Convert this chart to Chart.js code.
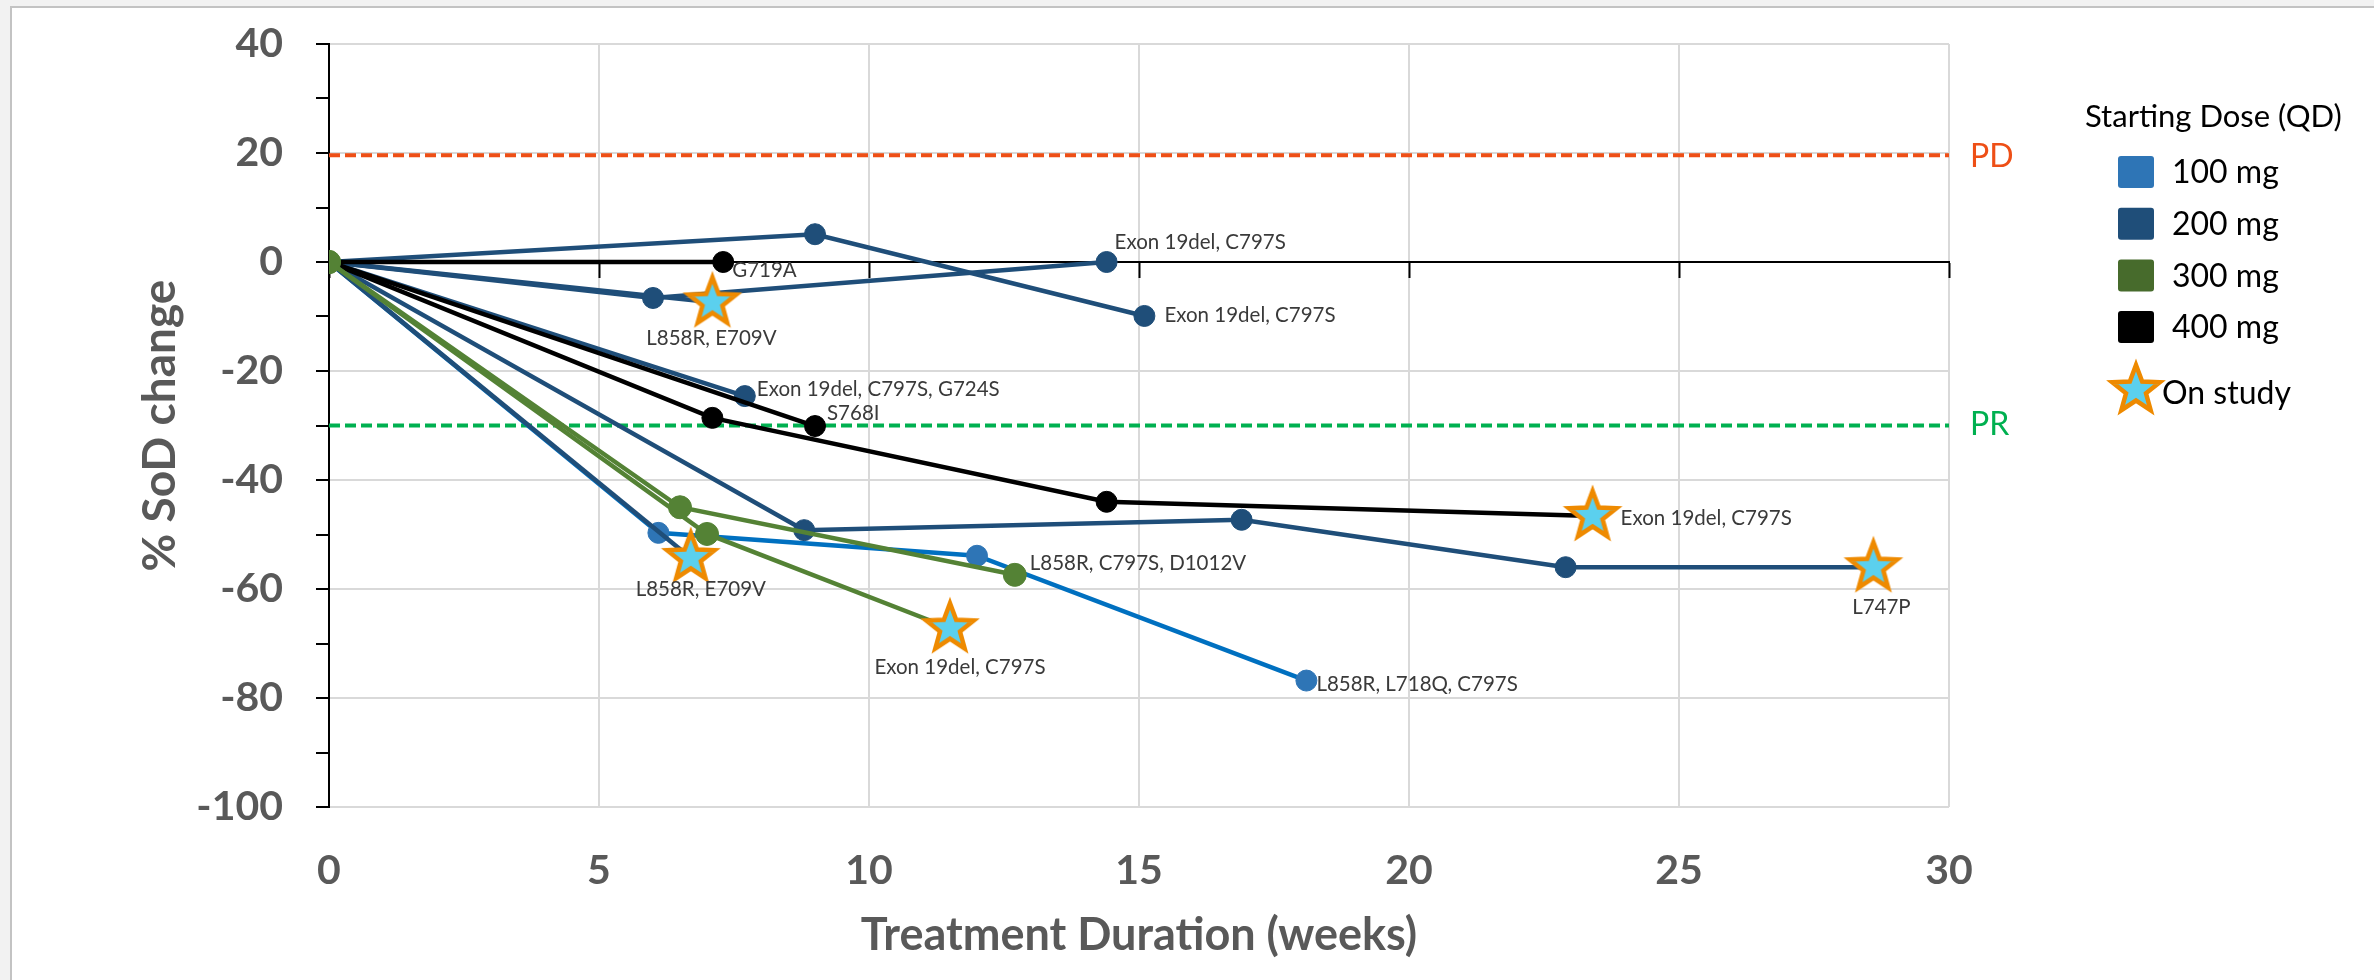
<!DOCTYPE html>
<html><head><meta charset="utf-8">
<script src="https://cdn.jsdelivr.net/npm/chart.js@4.4.1/dist/chart.umd.min.js"></script>
<style>
html,body{margin:0;padding:0;width:2374px;height:980px;overflow:hidden;background:#f2f2f2;}
#frame{position:absolute;left:10px;top:6px;width:2400px;height:1000px;background:#fff;border-left:2px solid #c3c3c3;border-top:2px solid #c3c3c3;}
#c{position:absolute;left:0;top:0;}
</style></head><body>
<div id="frame"></div>
<canvas id="c" width="2374" height="980"></canvas>
<script>
// ---------- data ----------
const doseLabels = ['100 mg', '200 mg', '300 mg', '400 mg'];

const p01Weeks = [0, 9.0, 15.1];             const p01Sod = [0, 5.1, -9.9];
const p02Weeks = [0, 6.0, 14.4];             const p02Sod = [0, -6.6, 0];
const p03Weeks = [0, 7.1];                   const p03Sod = [0, -7.4];
const p04Weeks = [0, 7.3];                   const p04Sod = [0, 0];
const p05Weeks = [0, 7.7];                   const p05Sod = [0, -24.6];
const p06Weeks = [0, 9.0];                   const p06Sod = [0, -30.1];
const p07Weeks = [0, 7.1, 14.4, 23.4];       const p07Sod = [0, -28.6, -44.0, -46.6];
const p08Weeks = [0, 8.8, 16.9, 22.9, 28.6]; const p08Sod = [0, -49.2, -47.3, -56.0, -56.0];
const p09Weeks = [0, 6.1, 12.0, 18.1];       const p09Sod = [0, -49.7, -53.9, -76.8];
const p10Weeks = [0, 6.7];                   const p10Sod = [0, -54.3];
const p11Weeks = [0, 6.5, 12.7];             const p11Sod = [0, -45.0, -57.4];
const p12Weeks = [0, 7.0, 11.5];             const p12Sod = [0, -49.9, -67.2];

const patientWeeks = [p01Weeks, p02Weeks, p03Weeks, p04Weeks, p05Weeks, p06Weeks, p07Weeks, p08Weeks, p09Weeks, p10Weeks, p11Weeks, p12Weeks];
const patientSod   = [p01Sod, p02Sod, p03Sod, p04Sod, p05Sod, p06Sod, p07Sod, p08Sod, p09Sod, p10Sod, p11Sod, p12Sod];
const patientDose  = ['200 mg', '200 mg', '200 mg', '400 mg', '200 mg', '400 mg', '400 mg', '200 mg', '100 mg', '200 mg', '300 mg', '300 mg'];
const patientMutation = ['Exon 19del, C797S', 'Exon 19del, C797S', 'L858R, E709V', 'G719A',
  'Exon 19del, C797S, G724S', 'S768I', 'Exon 19del, C797S', 'L747P',
  'L858R, L718Q, C797S', 'L858R, E709V', 'L858R, C797S, D1012V', 'Exon 19del, C797S'];
const patientOnStudy = [false, false, true, false, false, false, true, true, false, true, false, true];

const pdLevel = 19.6;
const prLevel = -30;
const thresholdSpan = [0, 30];

// ---------- styles ----------
const doseMarkerColors = {'100 mg': '#2E75B6', '200 mg': '#1F4E79', '300 mg': '#548235', '400 mg': '#000000'};
const doseLineColors   = {'100 mg': '#0070C0', '200 mg': '#1F4E79', '300 mg': '#548235', '400 mg': '#000000'};
const doseLegendColors = {'100 mg': '#2E75B6', '200 mg': '#1F4E79', '300 mg': '#476B2C', '400 mg': '#000000'};
const doseOrder = {'100 mg': 4, '200 mg': 3, '400 mg': 2, '300 mg': 1};
const pdColor = '#EE4F16', prColor = '#00B050';
const labelOffsets = [
  [20, -1, 'left'], [8, -20, 'left'], [-1, 36, 'center'], [9, 8, 'left'],
  [12, -7, 'left'], [12, -13, 'left'], [28, 2, 'left'], [8, 40, 'center'],
  [10, 4, 'left'], [10, 31, 'center'], [15, -11, 'left'], [10, 39, 'center']
];

function makeStar(R, r, lw) {
  const size = Math.ceil(2 * (R + lw * 2.2));
  const c = document.createElement('canvas');
  c.width = size; c.height = size;
  const g = c.getContext('2d');
  const cx = size / 2, cy = size / 2;
  g.beginPath();
  for (let i = 0; i < 10; i++) {
    const a = -Math.PI / 2 + i * Math.PI / 5;
    const rad = i % 2 === 0 ? R : r;
    g.lineTo(cx + rad * Math.cos(a), cy + rad * Math.sin(a));
  }
  g.closePath();
  g.fillStyle = '#5BD0EE';
  g.fill();
  g.lineWidth = lw;
  g.lineJoin = 'miter';
  g.miterLimit = 10;
  g.strokeStyle = '#EE8A00';
  g.stroke();
  return c;
}
const starImg = makeStar(25, 10.5, 4.5);

// ---------- datasets ----------
const datasets = [];
patientWeeks.forEach((w, i) => {
  const d = patientDose[i];
  datasets.push({
    label: patientMutation[i],
    data: w.map((x, k) => ({x: x, y: patientSod[i][k]})),
    borderColor: doseLineColors[d],
    backgroundColor: doseMarkerColors[d],
    pointBackgroundColor: doseMarkerColors[d],
    pointBorderColor: doseMarkerColors[d],
    pointRadius: d === '300 mg' ? 11.5 : 10.5,
    pointBorderWidth: 1,
    borderWidth: 4.5,
    tension: 0,
    order: doseOrder[d]
  });
});
datasets.push({
  label: 'On study',
  type: 'scatter',
  data: patientWeeks.map((w, i) => patientOnStudy[i] ? {x: w[w.length - 1], y: patientSod[i][patientSod[i].length - 1]} : null).filter(p => p),
  pointStyle: starImg,
  pointRadius: 28,
  showLine: false,
  order: 0
});
datasets.push({
  label: 'PD', data: thresholdSpan.map(x => ({x: x, y: pdLevel})),
  borderColor: pdColor, borderDash: [11, 5], borderWidth: 4, pointRadius: 0, order: 6
});
datasets.push({
  label: 'PR', data: thresholdSpan.map(x => ({x: x, y: prLevel})),
  borderColor: prColor, borderDash: [11, 5], borderWidth: 4, pointRadius: 0, order: 6
});

// ---------- plugins ----------
const labelPlugin = {
  id: 'mutationLabels',
  afterDatasetsDraw(chart) {
    const ctx = chart.ctx, xs = chart.scales.x, ys = chart.scales.y;
    ctx.save();
    ctx.font = '20.5px Lato';
    ctx.fillStyle = '#3a3a3a';
    ctx.textBaseline = 'middle';
    patientWeeks.forEach((w, i) => {
      const px = xs.getPixelForValue(w[w.length - 1]);
      const py = ys.getPixelForValue(patientSod[i][patientSod[i].length - 1]);
      const o = labelOffsets[i];
      ctx.textAlign = o[2];
      ctx.fillText(patientMutation[i], px + o[0], py + o[1]);
    });
    ctx.restore();
  }
};

const legendPlugin = {
  id: 'customLegend',
  afterDraw(chart) {
    const ctx = chart.ctx, ca = chart.chartArea, ys = chart.scales.y;
    ctx.save();
    ctx.textBaseline = 'middle';
    ctx.textAlign = 'left';
    ctx.font = '32px Lato';
    ctx.fillStyle = pdColor;
    ctx.fillText('PD', ca.right + 21, ys.getPixelForValue(pdLevel) + 2);
    ctx.fillStyle = prColor;
    ctx.fillText('PR', ca.right + 21, ys.getPixelForValue(prLevel) - 1);

    ctx.fillStyle = '#000';
    ctx.font = '31px Lato';
    ctx.fillText('Starting Dose (QD)', ca.right + 136, 117);
    ctx.font = '32px Lato';
    doseLabels.forEach((d, i) => {
      const cy = 172 + i * 51.7;
      ctx.fillStyle = doseLegendColors[d];
      ctx.beginPath();
      ctx.roundRect(ca.right + 169, cy - 16, 36, 32, 3);
      ctx.fill();
      ctx.fillStyle = '#000';
      ctx.fillText(d, ca.right + 223, cy + 1);
    });
    ctx.drawImage(starImg, ca.right + 187 - starImg.width / 2, 390 - starImg.height / 2);
    ctx.fillStyle = '#000';
    ctx.fillText('On study', ca.right + 213, 394);
    ctx.restore();
  }
};

const tickFont = {family: 'Lato', weight: 'bold', size: 41};
const grey = '#595959';

new Chart(document.getElementById('c'), {
  type: 'line',
  data: {datasets: datasets},
  options: {
    responsive: false,
    animation: false,
    events: [],
    layout: {padding: {left: 0, right: 425, top: 44, bottom: 0}},
    plugins: {legend: {display: false}, tooltip: {enabled: false}},
    scales: {
      x: {
        type: 'linear', min: 0, max: 30,
        ticks: {stepSize: 5, padding: 39, color: grey, font: tickFont},
        grid: {
          color: c => (c.tick && c.tick.value === 0) ? 'rgba(0,0,0,0)' : '#d9d9d9',
          lineWidth: 2, drawTicks: false
        },
        border: {display: false},
        title: {display: true, text: 'Treatment Duration (weeks)', color: grey,
                font: {family: 'Lato', weight: 'bold', size: 45}, padding: {top: 0, bottom: 18}},
        afterFit: s => { s.height = 173; s.paddingLeft = 0; s.paddingRight = 0; }
      },
      x0: {
        type: 'linear', axis: 'x', min: 0, max: 30, position: {y: 0},
        ticks: {stepSize: 5, display: false},
        grid: {drawOnChartArea: false, tickLength: 15, tickColor: '#000', tickWidth: 2},
        border: {color: '#000', width: 2}
      },
      y: {
        min: -100, max: 40,
        ticks: {stepSize: 10, padding: 33, color: grey, font: tickFont,
                callback: v => (v % 20 === 0 ? v : '')},
        grid: {
          color: c => (c.tick && c.tick.value % 20 === 0) ? '#d9d9d9' : 'rgba(0,0,0,0)',
          lineWidth: 2, tickColor: '#000', tickLength: 13, tickWidth: 2
        },
        border: {color: '#000', width: 2},
        title: {display: true, text: '% SoD change', color: grey,
                font: {family: 'Lato', weight: 'bold', size: 46}, padding: {top: 133, bottom: 0}},
        afterFit: s => { s.width = 329; s.paddingTop = 0; s.paddingBottom = 0; }
      }
    }
  },
  plugins: [labelPlugin, legendPlugin]
});
</script>
</body></html>
